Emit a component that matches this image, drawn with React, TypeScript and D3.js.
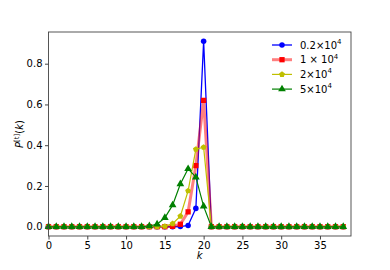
import * as d3 from "d3";
import { useEffect, useRef } from "react";

// k = 0..38
const ks = d3.range(0, 39);

// non-zero values per series (everything else is 0)
const blueVals: [number, number][] = [[17, 0.001], [18, 0.006], [19, 0.09], [20, 0.91]];
const redVals: [number, number][] = [[16, 0.002], [17, 0.012], [18, 0.073], [19, 0.30], [20, 0.62]];
const yellowVals: [number, number][] = [[15, 0.002], [16, 0.015], [17, 0.052], [18, 0.176], [19, 0.38], [20, 0.39]];
const greenVals: [number, number][] = [[13, 0.004], [14, 0.012], [15, 0.044], [16, 0.106], [17, 0.21], [18, 0.284], [19, 0.243], [20, 0.10]];

const seriesNames = ["0.2×10", "1 × 10", "2×10", "5×10"];
const xTicks = [0, 5, 10, 15, 20, 25, 30, 35];
const yTicks = [0, 0.2, 0.4, 0.6, 0.8];

const fill = (vals: [number, number][]) => {
    const m = new Map(vals);
    return ks.map((k) => [k, m.get(k) ?? 0] as [number, number]);
};

const series = [
    { name: seriesNames[0], data: fill(blueVals), color: "#0000ff", marker: "circle", width: 1.3, opacity: 1 },
    { name: seriesNames[1], data: fill(redVals), color: "#ff0000", marker: "square", width: 3, opacity: 0.5 },
    { name: seriesNames[2], data: fill(yellowVals), color: "#bfbf00", marker: "pentagon", width: 1.2, opacity: 1 },
    { name: seriesNames[3], data: fill(greenVals), color: "#008000", marker: "triangle", width: 1.2, opacity: 1 },
];

const App = () => {
    const ref = useRef<SVGSVGElement>(null);

    useEffect(() => {
        const svg = d3.select(ref.current);
        svg.selectAll("*").remove();

        const left = 48.5, right = 351, top = 32, bottom = 236;
        const x = d3.scaleLinear().domain([0, 39]).range([left, right]);
        const y = d3.scaleLinear().domain([-0.0455, 0.9555]).range([bottom, top]);

        const font = "DejaVu Sans, sans-serif";

        const symbolFor = (m: string) => {
            if (m === "circle") return d3.symbol(d3.symbolCircle, 24)();
            if (m === "square") return d3.symbol(d3.symbolSquare, 28)();
            if (m === "triangle") return d3.symbol(d3.symbolTriangle, 26)();
            // pentagon
            const r = 3.1;
            const pts = d3.range(5).map((i) => {
                const a = -Math.PI / 2 + (i * 2 * Math.PI) / 5;
                return [r * Math.cos(a), r * Math.sin(a)];
            });
            return "M" + pts.map((p) => p.join(",")).join("L") + "Z";
        };

        const plot = svg.append("g");
        const line = d3.line<[number, number]>().x((d) => x(d[0])).y((d) => y(d[1]));

        series.forEach((s) => {
            const g = plot.append("g");
            g.append("path")
                .attr("d", line(s.data))
                .attr("fill", "none")
                .attr("stroke", s.color)
                .attr("stroke-width", s.width)
                .attr("stroke-opacity", s.opacity);
            g.selectAll("path.mk")
                .data(s.data)
                .enter()
                .append("path")
                .attr("class", "mk")
                .attr("d", symbolFor(s.marker))
                .attr("transform", (d) => `translate(${x(d[0])},${y(d[1])})`)
                .attr("fill", s.color);
        });

        // frame
        svg.append("rect")
            .attr("x", left).attr("y", top)
            .attr("width", right - left).attr("height", bottom - top)
            .attr("fill", "none").attr("stroke", "#444").attr("stroke-width", 0.9);

        // x axis
        const xAxis = svg.append("g").attr("transform", `translate(0,${bottom})`)
            .call(d3.axisBottom(x).tickValues(xTicks).tickFormat(d3.format("d")).tickSize(3.5).tickPadding(2.5));
        xAxis.select(".domain").remove();
        xAxis.selectAll("text").attr("font-size", 10).attr("font-family", font).attr("fill", "#000");
        xAxis.selectAll("line").attr("stroke", "#444");

        // y axis
        const yAxis = svg.append("g").attr("transform", `translate(${left},0)`)
            .call(d3.axisLeft(y).tickValues(yTicks).tickFormat(d3.format(".1f")).tickSize(3.5).tickPadding(2.5));
        yAxis.select(".domain").remove();
        yAxis.selectAll("text").attr("font-size", 10).attr("font-family", font).attr("fill", "#000");
        yAxis.selectAll("line").attr("stroke", "#444");

        // axis labels
        svg.append("text")
            .attr("x", (left + right) / 2).attr("y", 259)
            .attr("text-anchor", "middle").attr("font-size", 10).attr("font-family", font)
            .attr("font-style", "italic").text("k");

        const yl = svg.append("text")
            .attr("transform", `translate(23,${(top + bottom) / 2}) rotate(-90)`)
            .attr("text-anchor", "middle").attr("font-size", 10).attr("font-family", font);
        yl.append("tspan").attr("font-style", "italic").text("P");
        yl.append("tspan").attr("font-size", 7).attr("dy", -4).text("[t]");
        yl.append("tspan").attr("dy", 4).text("(");
        yl.append("tspan").attr("font-style", "italic").text("k");
        yl.append("tspan").text(")");

        // legend
        const lg = svg.append("g");
        series.forEach((s, i) => {
            const yy = 45 + i * 14.7;
            lg.append("line")
                .attr("x1", 272).attr("x2", 292).attr("y1", yy).attr("y2", yy)
                .attr("stroke", s.color).attr("stroke-width", s.width).attr("stroke-opacity", s.opacity);
            lg.append("path").attr("d", symbolFor(s.marker))
                .attr("transform", `translate(282,${yy})`).attr("fill", s.color);
            const t = lg.append("text")
                .attr("x", 300).attr("y", yy + 3.5)
                .attr("font-size", 10).attr("font-family", font);
            t.append("tspan").text(s.name);
            t.append("tspan").attr("font-size", 7).attr("dy", -4.5).text("4");
        });
    }, []);

    return <svg ref={ref} width={390} height={270} style={{ display: "block", margin: -8 }} />;
};

export default App;
